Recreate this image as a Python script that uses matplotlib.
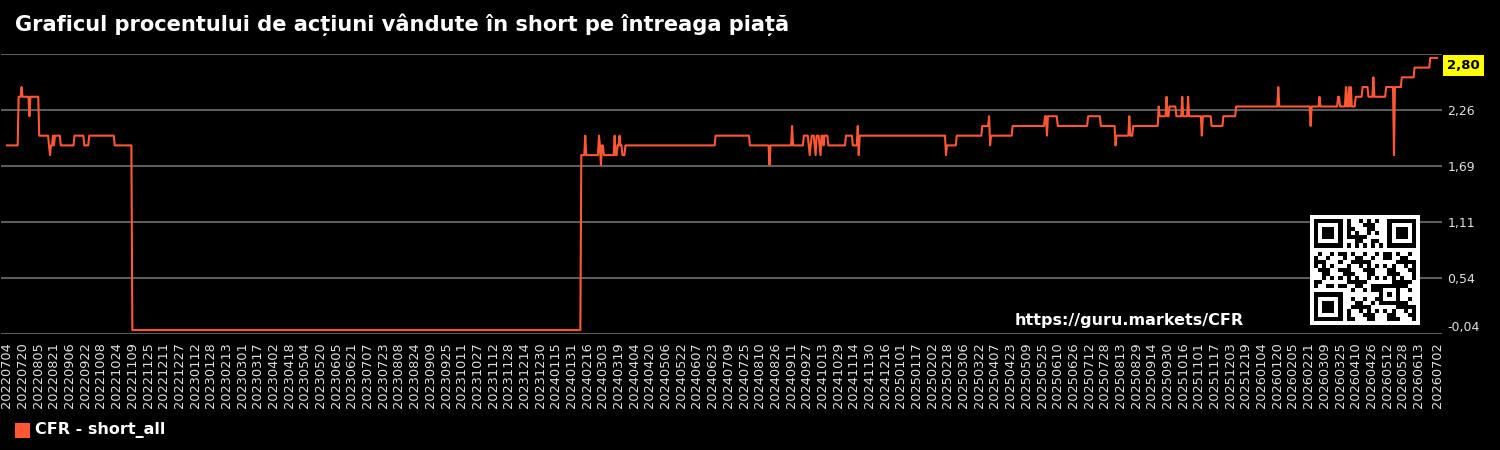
import matplotlib
matplotlib.use("Agg")
import matplotlib.pyplot as plt
from matplotlib.patches import Rectangle
import numpy as np
import pandas as pd

# first and last day of the daily series
start_date = "2022-07-04"
end_date = "2026-07-02"

# value holds from each change date until the next one (spikes last one day)
change_dates = [
    "2022-07-04", "2022-07-16", "2022-07-19", "2022-07-20", "2022-07-27", "2022-07-28",
    "2022-08-06", "2022-08-16", "2022-08-17", "2022-08-18", "2022-08-20", "2022-08-21",
    "2022-08-22", "2022-08-28", "2022-09-11", "2022-09-21", "2022-09-26", "2022-10-22",
    "2022-11-09",
    "2024-02-10", "2024-02-14", "2024-02-15", "2024-02-28", "2024-02-29", "2024-03-01",
    "2024-03-02", "2024-03-04", "2024-03-15", "2024-03-16", "2024-03-18", "2024-03-20",
    "2024-03-21", "2024-03-23", "2024-03-26", "2024-06-26", "2024-07-31", "2024-08-20",
    "2024-08-21", "2024-09-12", "2024-09-13", "2024-09-24", "2024-09-29", "2024-09-30",
    "2024-10-01", "2024-10-02", "2024-10-05", "2024-10-06", "2024-10-07", "2024-10-10",
    "2024-10-11", "2024-10-12", "2024-10-14", "2024-10-15", "2024-10-19", "2024-11-06",
    "2024-11-13", "2024-11-18", "2024-11-19", "2024-11-20",
    "2025-02-16", "2025-02-17", "2025-02-27", "2025-03-25", "2025-04-01", "2025-04-02",
    "2025-04-03", "2025-04-25", "2025-05-28", "2025-05-30", "2025-05-31", "2025-06-10",
    "2025-07-11", "2025-07-24", "2025-08-08", "2025-08-09", "2025-08-22", "2025-08-23",
    "2025-08-26", "2025-09-21", "2025-09-22", "2025-09-29", "2025-09-30", "2025-10-02",
    "2025-10-09", "2025-10-15", "2025-10-16", "2025-10-21", "2025-10-22", "2025-11-04",
    "2025-11-05", "2025-11-14", "2025-11-26", "2025-12-09",
    "2026-01-21", "2026-01-22", "2026-02-23", "2026-02-24", "2026-03-04", "2026-03-05",
    "2026-03-23", "2026-03-25", "2026-03-31", "2026-04-01", "2026-04-03", "2026-04-04",
    "2026-04-05", "2026-04-06", "2026-04-10", "2026-04-17", "2026-04-23", "2026-04-28",
    "2026-04-29", "2026-05-11", "2026-05-19", "2026-05-20", "2026-05-27", "2026-06-09",
    "2026-06-25",
]
change_values = [
    1.9, 2.4, 2.5, 2.4, 2.2, 2.4,
    2.0, 1.9, 1.8, 1.9, 2.0, 1.9,
    2.0, 1.9, 2.0, 1.9, 2.0, 1.9,
    0.0,
    1.8, 2.0, 1.8, 2.0, 1.9, 1.7,
    1.9, 1.8, 2.0, 1.8, 1.9, 2.0,
    1.9, 1.8, 1.9, 2.0, 1.9, 1.7,
    1.9, 2.1, 1.9, 2.0, 1.9, 1.8,
    1.9, 2.0, 1.9, 1.8, 2.0, 1.9,
    1.8, 2.0, 1.9, 2.0, 1.9, 2.0,
    1.9, 2.1, 1.8, 2.0,
    1.8, 1.9, 2.0, 2.1, 2.2, 1.9,
    2.0, 2.1, 2.2, 2.0, 2.2, 2.1,
    2.2, 2.1, 1.9, 2.0, 2.2, 2.0,
    2.1, 2.3, 2.2, 2.4, 2.2, 2.3,
    2.2, 2.4, 2.2, 2.4, 2.2, 2.0,
    2.2, 2.1, 2.2, 2.3,
    2.5, 2.3, 2.1, 2.3, 2.4, 2.3,
    2.4, 2.3, 2.5, 2.3, 2.5, 2.3,
    2.5, 2.3, 2.4, 2.5, 2.4, 2.6,
    2.4, 2.5, 1.8, 2.5, 2.6, 2.7,
    2.8,
]

y_ticks = [-0.04, 0.536, 1.112, 1.688, 2.264, 2.84]
y_labels = ["-0,04", "0,54", "1,11", "1,69", "2,26", ""]

title = "Graficul procentului de acțiuni vândute în short pe întreaga piață"
series_name = "CFR - short_all"
watermark = "https://guru.markets/CFR"
line_color = "#ff5733"

s = pd.Series(change_values, index=pd.to_datetime(change_dates))
days = pd.date_range(start_date, end_date, freq="D")
s = s.reindex(days).ffill()
n = len(s)
x = np.arange(n)

fig = plt.figure(figsize=(15, 4.5), dpi=100, facecolor="black")
ax = fig.add_axes([1/1500, 116/450, 1441/1500, 280/450])
ax.set_facecolor("black")

ax.plot(x, s.values, color=line_color, lw=1.5, zorder=3)

ax.set_xlim(-6, n + 4)
ax.set_ylim(y_ticks[0], y_ticks[-1])

ticks = list(range(0, n - 16, 16)) + [n - 1]
ax.set_xticks(ticks)
ax.set_xticklabels([days[i].strftime("%Y%m%d") for i in ticks], rotation=90,
                   color="#e0e0e0", fontsize=9.3)
ax.tick_params(axis="x", length=0, pad=6)

ax.yaxis.tick_right()
ax.set_yticks(y_ticks)
ax.set_yticklabels(y_labels, color="#e0e0e0", fontsize=9)
ax.tick_params(axis="y", length=0, pad=4)
ax.get_yticklabels()[0].set_verticalalignment("bottom")
ax.grid(axis="y", color="#5c5c5c", lw=1.5)
ax.set_axisbelow(True)
for sp in ax.spines.values():
    sp.set_visible(False)

# last value badge
last = s.values[-1]
ax.annotate(("%.2f" % last).replace(".", ","), xy=(1.0, last),
            xycoords=("axes fraction", "data"), xytext=(3.5, -5.3), textcoords="offset points",
            va="center", ha="left", fontsize=9.5, fontweight="bold", color="black",
            bbox=dict(boxstyle="square,pad=0.3", fc="#ffff00", ec="none"))

fig.text(15/1500, 1 - 25/450, title, color="white", fontsize=15.1, fontweight="bold",
         va="center", ha="left")
fig.text(1244/1500, 1 - 320/450, watermark, color="white", fontsize=11.5,
         fontweight="bold", va="center", ha="right")

# legend
fig.patches.append(Rectangle((15/1500, 12/450), 15/1500, 15/450, transform=fig.transFigure,
                             facecolor=line_color, edgecolor="none"))
fig.text(35/1500, 1 - 430/450, series_name, color="white", fontsize=11.5,
         fontweight="bold", va="center", ha="left")

# qr badge (decorative)
m = 25
qr = np.zeros((m, m))
ii, jj = np.meshgrid(np.arange(m), np.arange(m), indexing="ij")
qr[((ii * 31 + jj * 17 + ii * jj * 7) % 11) < 5] = 1
def finder(r, c):
    qr[r:r+7, c:c+7] = 1
    qr[r+1:r+6, c+1:c+6] = 0
    qr[r+2:r+5, c+2:c+5] = 1
for r, c in [(0, 0), (0, m - 7), (m - 7, 0)]:
    finder(r, c)
qr[7, :8] = 0; qr[:8, 7] = 0
qr[7, m-8:] = 0; qr[:8, m-8] = 0
qr[m-8, :8] = 0; qr[m-8:, 7] = 0
qr[6, 8:m-8] = (np.arange(8, m - 8) + 1) % 2
qr[8:m-8, 6] = (np.arange(8, m - 8) + 1) % 2
qr[16:21, 16:21] = 1; qr[17:20, 17:20] = 0; qr[18, 18] = 1
qax = fig.add_axes([1310/1500, 125/450, 110/1500, 110/450])
qax.imshow(1 - qr, cmap="gray", vmin=0, vmax=1, interpolation="nearest",
           extent=(0, m, m, 0))
qax.set_xlim(-1, m + 1)
qax.set_ylim(m + 1, -1)
qax.set_facecolor("white")
qax.set_xticks([]); qax.set_yticks([])
for sp in qax.spines.values():
    sp.set_visible(False)

fig.savefig("out.png", dpi=100, facecolor="black")
